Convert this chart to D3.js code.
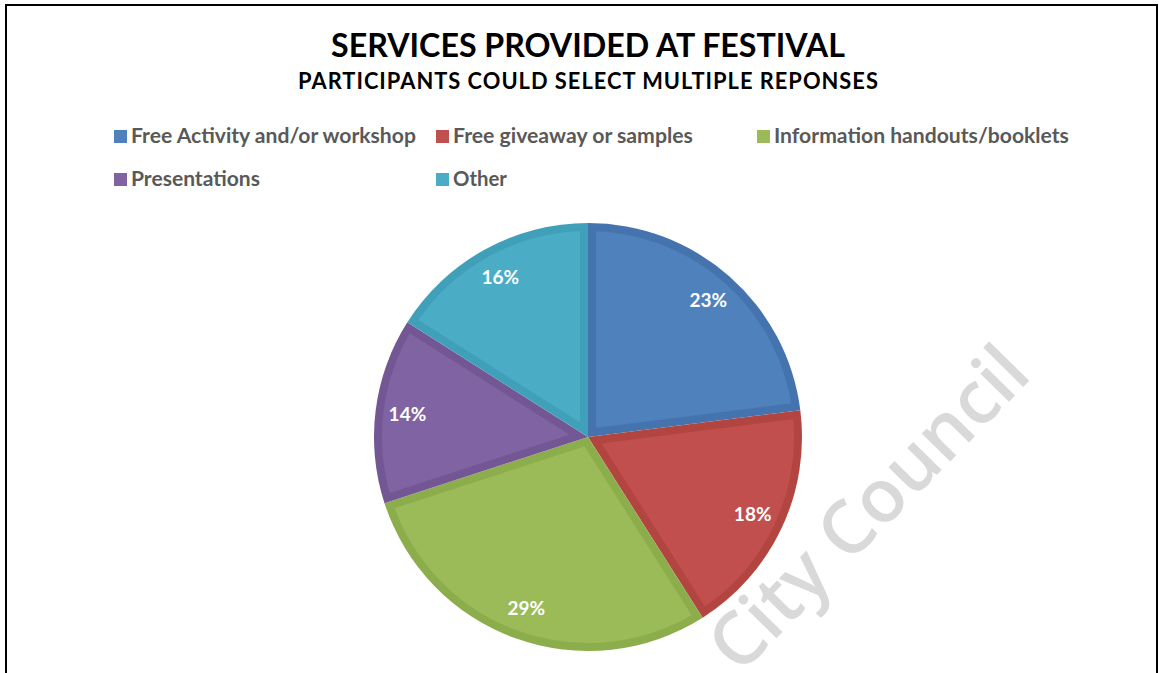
<!DOCTYPE html>
<html>
<head>
<meta charset="utf-8">
<script src="https://cdn.jsdelivr.net/npm/d3@7"></script>
<style>
  html, body { margin: 0; padding: 0; background: #ffffff; }
  svg { display: block; }
</style>
</head>
<body>
<svg id="chart" width="1159" height="673"></svg>
<script>
// Services offered at the festival (share of all selections, %)
const categories = [
  "Free Activity and/or workshop",
  "Free giveaway or samples",
  "Information handouts/booklets",
  "Presentations",
  "Other"
];
const shares = [23, 18, 29, 14, 16];
const sliceColors = ["#4f81bd", "#c0504d", "#9bbb59", "#8064a2", "#4bacc6"];
const edgeColors  = ["#4573ad", "#b3443f", "#8cad4c", "#735794", "#40a0ba"];
const titleText = "SERVICES PROVIDED AT FESTIVAL";
const subtitleText = "PARTICIPANTS COULD SELECT MULTIPLE REPONSES";
const watermarkText = "City Council";

const W = 1159, H = 673;
const svg = d3.select("#chart");
const FONT = "Lato, 'Open Sans', sans-serif";

// scale a text element's font size so its rendered width equals target
function fitWidth(sel, target) {
  const node = sel.node();
  const base = parseFloat(sel.attr("font-size"));
  const len = node.getComputedTextLength();
  sel.attr("font-size", (base * target / len).toFixed(2));
  return sel;
}

// frame
svg.append("rect")
  .attr("x", 6).attr("y", 5)
  .attr("width", 1151).attr("height", H + 10)
  .attr("fill", "#ffffff")
  .attr("stroke", "#000000")
  .attr("stroke-width", 2);

// titles
fitWidth(svg.append("text")
  .attr("x", 588).attr("y", 57)
  .attr("text-anchor", "middle")
  .attr("font-family", FONT).attr("font-weight", 700)
  .attr("font-size", 30).attr("fill", "#000000")
  .text(titleText), 514);

fitWidth(svg.append("text")
  .attr("x", 588.5).attr("y", 89)
  .attr("text-anchor", "middle")
  .attr("font-family", FONT).attr("font-weight", 700)
  .attr("font-size", 20).attr("fill", "#000000")
  .attr("letter-spacing", 1)
  .text(subtitleText), 585);

// legend
const legendCols = [114, 436, 757];
const legendRows = [143, 186];
const legendWidths = [285, 240, 295, 129, 54];
const legend = svg.append("g");
categories.forEach((c, i) => {
  const col = legendCols[i % 3];
  const row = legendRows[Math.floor(i / 3)];
  legend.append("rect")
    .attr("x", col).attr("y", row - 13)
    .attr("width", 13).attr("height", 13)
    .attr("fill", sliceColors[i]);
  fitWidth(legend.append("text")
    .attr("x", col + 17).attr("y", row)
    .attr("font-family", FONT).attr("font-weight", 700)
    .attr("font-size", 19).attr("fill", "#595959")
    .text(c), legendWidths[i]);
});

// watermark
svg.append("text")
  .attr("transform", "translate(868,508) rotate(-45.5)")
  .attr("text-anchor", "middle")
  .attr("dy", "0.35em")
  .attr("font-family", "'Open Sans', sans-serif")
  .attr("font-weight", 600)
  .attr("font-size", 74)
  .attr("fill", "#d9d9d9")
  .text(watermarkText);

// pie
const cx = 588, cy = 437, R = 214;
const pie = d3.pie().sort(null).value(d => d);
const arcs = pie(shares);
const arc = d3.arc().innerRadius(0).outerRadius(R);
const labelArc = d3.arc().innerRadius(182).outerRadius(182);

const g = svg.append("g").attr("transform", `translate(${cx},${cy})`);
const defs = svg.append("defs");

defs.append("filter").attr("id", "soft")
  .append("feGaussianBlur").attr("stdDeviation", 0.6);

arcs.forEach((a, i) => {
  defs.append("clipPath").attr("id", "clip" + i)
    .append("path").attr("d", arc(a));
});

const slices = g.selectAll("g.slice").data(arcs).enter()
  .append("g").attr("class", "slice");

slices.append("path")
  .attr("d", arc)
  .attr("fill", (d, i) => sliceColors[i])
  .attr("stroke", (d, i) => edgeColors[i])
  .attr("stroke-width", 16)
  .attr("stroke-linejoin", "round")
  .attr("clip-path", (d, i) => `url(#clip${i})`)
  .attr("filter", "url(#soft)");

// value labels
g.selectAll("text.val").data(arcs).enter()
  .append("text").attr("class", "val")
  .attr("transform", d => `translate(${labelArc.centroid(d)})`)
  .attr("text-anchor", "middle")
  .attr("dy", "0.35em")
  .attr("font-family", FONT).attr("font-weight", 700)
  .attr("font-size", 19).attr("fill", "#ffffff")
  .text(d => d.data + "%");
</script>
</body>
</html>
